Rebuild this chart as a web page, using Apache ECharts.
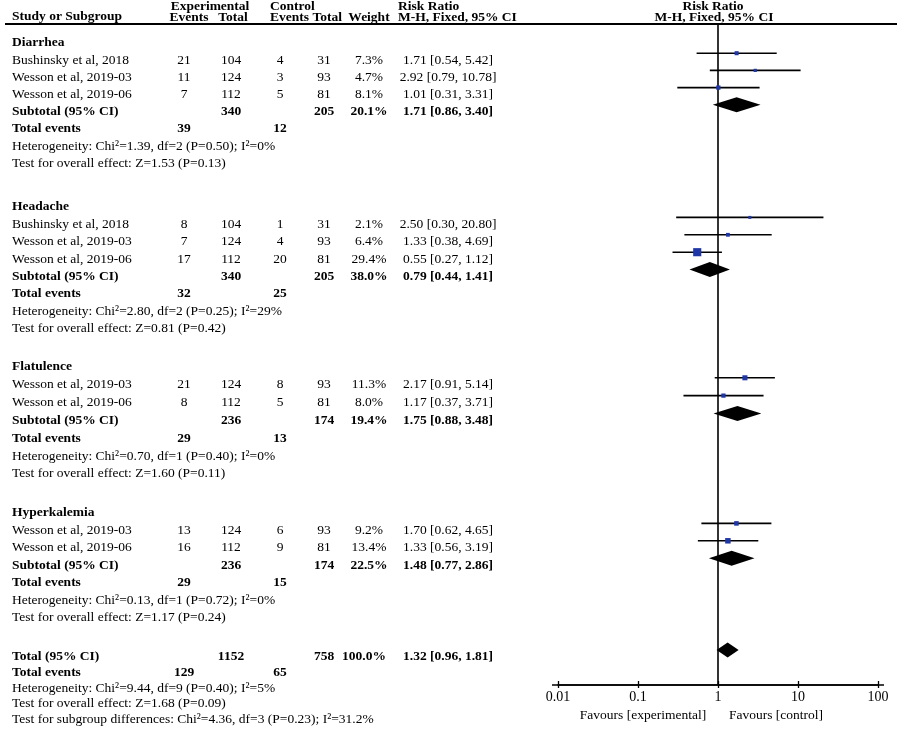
<!DOCTYPE html>
<html>
<head>
<meta charset="UTF-8">
<title>Forest plot</title>
<script src="https://cdn.jsdelivr.net/npm/echarts@6/dist/echarts.min.js"></script>
<style>
  html, body { margin: 0; padding: 0; background: #fff; }
  #main { width: 899px; height: 733px; }
</style>
</head>
<body>
<div id="main"></div>
<script type="text/javascript">
// ---- data ----
var groupNames = ['Diarrhea', 'Headache', 'Flatulence', 'Hyperkalemia'];

var studyGroup = [0, 0, 0, 1, 1, 1, 2, 2, 3, 3];
var studyNames = ['Bushinsky et al, 2018', 'Wesson et al, 2019-03', 'Wesson et al, 2019-06',
                  'Bushinsky et al, 2018', 'Wesson et al, 2019-03', 'Wesson et al, 2019-06',
                  'Wesson et al, 2019-03', 'Wesson et al, 2019-06',
                  'Wesson et al, 2019-03', 'Wesson et al, 2019-06'];
var expEvents  = [21, 11, 7, 8, 7, 17, 21, 8, 13, 16];
var expTotal   = [104, 124, 112, 104, 124, 112, 124, 112, 124, 112];
var ctrlEvents = [4, 3, 5, 1, 4, 20, 8, 5, 6, 9];
var ctrlTotal  = [31, 93, 81, 31, 93, 81, 93, 81, 93, 81];
var weights    = [7.3, 4.7, 8.1, 2.1, 6.4, 29.4, 11.3, 8.0, 9.2, 13.4];
var riskRatio  = [1.71, 2.92, 1.01, 2.50, 1.33, 0.55, 2.17, 1.17, 1.70, 1.33];
var ciLow      = [0.54, 0.79, 0.31, 0.30, 0.38, 0.27, 0.91, 0.37, 0.62, 0.56];
var ciHigh     = [5.42, 10.78, 3.31, 20.80, 4.69, 1.12, 5.14, 3.71, 4.65, 3.19];

// subtotals per group
var subExpTotal   = [340, 340, 236, 236];
var subCtrlTotal  = [205, 205, 174, 174];
var subWeight     = ['20.1%', '38.0%', '19.4%', '22.5%'];
var subRR         = [1.71, 0.79, 1.75, 1.48];
var subLow        = [0.86, 0.44, 0.88, 0.77];
var subHigh       = [3.40, 1.41, 3.48, 2.86];
var subExpEvents  = [39, 32, 29, 29];
var subCtrlEvents = [12, 25, 13, 15];
var subHetero = ['Chi\u00b2=1.39, df=2 (P=0.50); I\u00b2=0%',
                 'Chi\u00b2=2.80, df=2 (P=0.25); I\u00b2=29%',
                 'Chi\u00b2=0.70, df=1 (P=0.40); I\u00b2=0%',
                 'Chi\u00b2=0.13, df=1 (P=0.72); I\u00b2=0%'];
var subOverall = ['Z=1.53 (P=0.13)', 'Z=0.81 (P=0.42)', 'Z=1.60 (P=0.11)', 'Z=1.17 (P=0.24)'];

// overall total
var totExpTotal = 1152, totCtrlTotal = 758, totWeight = '100.0%';
var totRR = 1.32, totLow = 0.96, totHigh = 1.81;
var totExpEvents = 129, totCtrlEvents = 65;
var totHetero = 'Chi\u00b2=9.44, df=9 (P=0.40); I\u00b2=5%';
var totOverall = 'Z=1.68 (P=0.09)';
var totSubgroup = 'Chi\u00b2=4.36, df=3 (P=0.23); I\u00b2=31.2%';

var tickLabels = ['0.01', '0.1', '1', '10', '100'];

// ---- layout ----
var groupTop = [43, 207, 367, 513];
var groupPitch = [17.2, 17.4, 17.8, 17.4];
var totalTop = 657, totalPitch = 15.5;
var markShift = -7;   // the plotted marks sit a bit above their text line
var col = { label: 12, expEv: 184, expTot: 231, ctrlEv: 280, ctrlTot: 324, weight: 369, ci: 448 };

var FONT = '13.5px "Liberation Serif", "Times New Roman", serif';
var BOLD = 'bold 13.5px "Liberation Serif", "Times New Roman", serif';

function fmt(v) { return v.toFixed(2); }
function ciText(r, l, h) { return fmt(r) + ' [' + fmt(l) + ', ' + fmt(h) + ']'; }

var texts = [];
function addText(str, x, y, align, bold) {
    texts.push({
        type: 'text',
        x: x, y: y,
        silent: true,
        style: {
            text: String(str),
            font: bold ? BOLD : FONT,
            fill: '#000',
            textAlign: align || 'left',
            textVerticalAlign: 'middle',
            align: align || 'left',
            verticalAlign: 'middle'
        }
    });
}

// header
addText('Study or Subgroup', 12, 17, 'left', true);
addText('Experimental', 210, 7, 'center', true);
addText('Events', 189, 18, 'center', true);
addText('Total', 233, 18, 'center', true);
addText('Control', 270, 7, 'left', true);
addText('Events Total', 270, 18, 'left', true);
addText('Weight', 369, 18, 'center', true);
addText('Risk Ratio', 398, 7, 'left', true);
addText('M-H, Fixed, 95% CI', 398, 18, 'left', true);
addText('Risk Ratio', 713, 7, 'center', true);
addText('M-H, Fixed, 95% CI', 714, 18, 'center', true);

var studyPts = [];
var diamondPts = [];

for (var g = 0; g < groupNames.length; g++) {
    var line = 0;
    var yOf = function (k) { return groupTop[g] + k * groupPitch[g]; };
    addText(groupNames[g], col.label, yOf(line++), 'left', true);
    for (var i = 0; i < studyNames.length; i++) {
        if (studyGroup[i] !== g) continue;
        var y = yOf(line++);
        addText(studyNames[i], col.label, y, 'left', false);
        addText(expEvents[i], col.expEv, y, 'center', false);
        addText(expTotal[i], col.expTot, y, 'center', false);
        addText(ctrlEvents[i], col.ctrlEv, y, 'center', false);
        addText(ctrlTotal[i], col.ctrlTot, y, 'center', false);
        addText(weights[i].toFixed(1) + '%', col.weight, y, 'center', false);
        addText(ciText(riskRatio[i], ciLow[i], ciHigh[i]), col.ci, y, 'center', false);
        studyPts.push([riskRatio[i], ciLow[i], ciHigh[i], y + markShift, weights[i]]);
    }
    var ys = yOf(line++);
    addText('Subtotal (95% CI)', col.label, ys, 'left', true);
    addText(subExpTotal[g], col.expTot, ys, 'center', true);
    addText(subCtrlTotal[g], col.ctrlTot, ys, 'center', true);
    addText(subWeight[g], col.weight, ys, 'center', true);
    addText(ciText(subRR[g], subLow[g], subHigh[g]), col.ci, ys, 'center', true);
    diamondPts.push([subRR[g], subLow[g], subHigh[g], ys + markShift]);
    var ye = yOf(line++);
    addText('Total events', col.label, ye, 'left', true);
    addText(subExpEvents[g], col.expEv, ye, 'center', true);
    addText(subCtrlEvents[g], col.ctrlEv, ye, 'center', true);
    addText('Heterogeneity: ' + subHetero[g], col.label, yOf(line++), 'left', false);
    addText('Test for overall effect: ' + subOverall[g], col.label, yOf(line++), 'left', false);
}

// overall block
addText('Total (95% CI)', col.label, totalTop, 'left', true);
addText(totExpTotal, col.expTot, totalTop, 'center', true);
addText(totCtrlTotal, col.ctrlTot, totalTop, 'center', true);
addText(totWeight, col.weight - 5, totalTop, 'center', true);
addText(ciText(totRR, totLow, totHigh), col.ci, totalTop, 'center', true);
diamondPts.push([totRR, totLow, totHigh, totalTop + markShift]);
addText('Total events', col.label, totalTop + totalPitch, 'left', true);
addText(totExpEvents, col.expEv, totalTop + totalPitch, 'center', true);
addText(totCtrlEvents, col.ctrlEv, totalTop + totalPitch, 'center', true);
addText('Heterogeneity: ' + totHetero, col.label, totalTop + 2 * totalPitch, 'left', false);
addText('Test for overall effect: ' + totOverall, col.label, totalTop + 3 * totalPitch, 'left', false);
addText('Test for subgroup differences: ' + totSubgroup, col.label, totalTop + 4 * totalPitch, 'left', false);

// favours labels under the axis
addText('Favours [experimental]', 643, 715, 'center', false);
addText('Favours [control]', 776, 715, 'center', false);

// header rule
texts.push({
    type: 'line', silent: true,
    shape: { x1: 5, y1: 24, x2: 897, y2: 24 },
    style: { stroke: '#000', lineWidth: 1.8 }
});
// small overhang of the axis rule past the end ticks
texts.push({
    type: 'line', silent: true,
    shape: { x1: 552, y1: 685, x2: 884, y2: 685 },
    style: { stroke: '#000', lineWidth: 1.5 }
});

var myChart = echarts.init(document.getElementById('main'));

var gridTop = 24, gridBottomY = 685;

var option = {
    animation: false,
    backgroundColor: '#fff',
    grid: { left: 558, right: 21, top: gridTop, bottom: 733 - gridBottomY },
    xAxis: [{
        type: 'log', logBase: 10, min: 0.01, max: 100,
        position: 'bottom',
        splitLine: { show: false },
        axisLine: { show: true, lineStyle: { color: '#000', width: 1.5 } },
        axisTick: { show: true, inside: true, length: 4, lineStyle: { color: '#000', width: 1.3 } },
        axisLabel: {
            margin: 5, color: '#000', fontSize: 14, fontFamily: 'Liberation Serif',
            formatter: function (v) {
                var k = Math.round(Math.log(v) / Math.LN10) + 2;
                return tickLabels[k] !== undefined ? tickLabels[k] : '';
            }
        }
    }, {
        type: 'log', logBase: 10, min: 0.01, max: 100,
        position: 'bottom',
        splitLine: { show: false },
        axisLine: { show: false },
        axisTick: { show: true, inside: false, length: 3, lineStyle: { color: '#000', width: 1.3 } },
        axisLabel: { show: false }
    }],
    yAxis: {
        type: 'value', min: gridTop, max: gridBottomY, inverse: true,
        show: false, splitLine: { show: false }
    },
    series: [{
        // line of no effect at RR = 1
        type: 'line',
        data: [[1, gridTop], [1, gridBottomY]],
        symbol: 'none',
        lineStyle: { color: '#000', width: 1.6 },
        silent: true,
        z: 1
    }, {
        type: 'custom',
        data: studyPts,
        encode: { x: 0, y: 3 },
        z: 3,
        renderItem: function (params, api) {
            var y = api.value(3);
            var pLo = api.coord([api.value(1), y]);
            var pHi = api.coord([api.value(2), y]);
            var pRR = api.coord([api.value(0), y]);
            var s = Math.max(3, 1.5 * Math.sqrt(api.value(4)));
            return {
                type: 'group',
                children: [{
                    type: 'line',
                    shape: { x1: pLo[0], y1: pLo[1], x2: pHi[0], y2: pHi[1] },
                    style: { stroke: '#000', lineWidth: 1.6 }
                }, {
                    type: 'rect',
                    shape: { x: pRR[0] - s / 2, y: pRR[1] - s / 2, width: s, height: s },
                    style: { fill: '#1f36a6' }
                }]
            };
        }
    }, {
        type: 'custom',
        data: diamondPts,
        encode: { x: 0, y: 3 },
        z: 3,
        renderItem: function (params, api) {
            var y = api.value(3);
            var pLo = api.coord([api.value(1), y]);
            var pHi = api.coord([api.value(2), y]);
            var pRR = api.coord([api.value(0), y]);
            var h = 7.5;
            return {
                type: 'polygon',
                shape: { points: [[pLo[0], pLo[1]], [pRR[0], pRR[1] - h], [pHi[0], pHi[1]], [pRR[0], pRR[1] + h]] },
                style: { fill: '#000' }
            };
        }
    }],
    graphic: texts
};

myChart.setOption(option);
</script>
</body>
</html>
